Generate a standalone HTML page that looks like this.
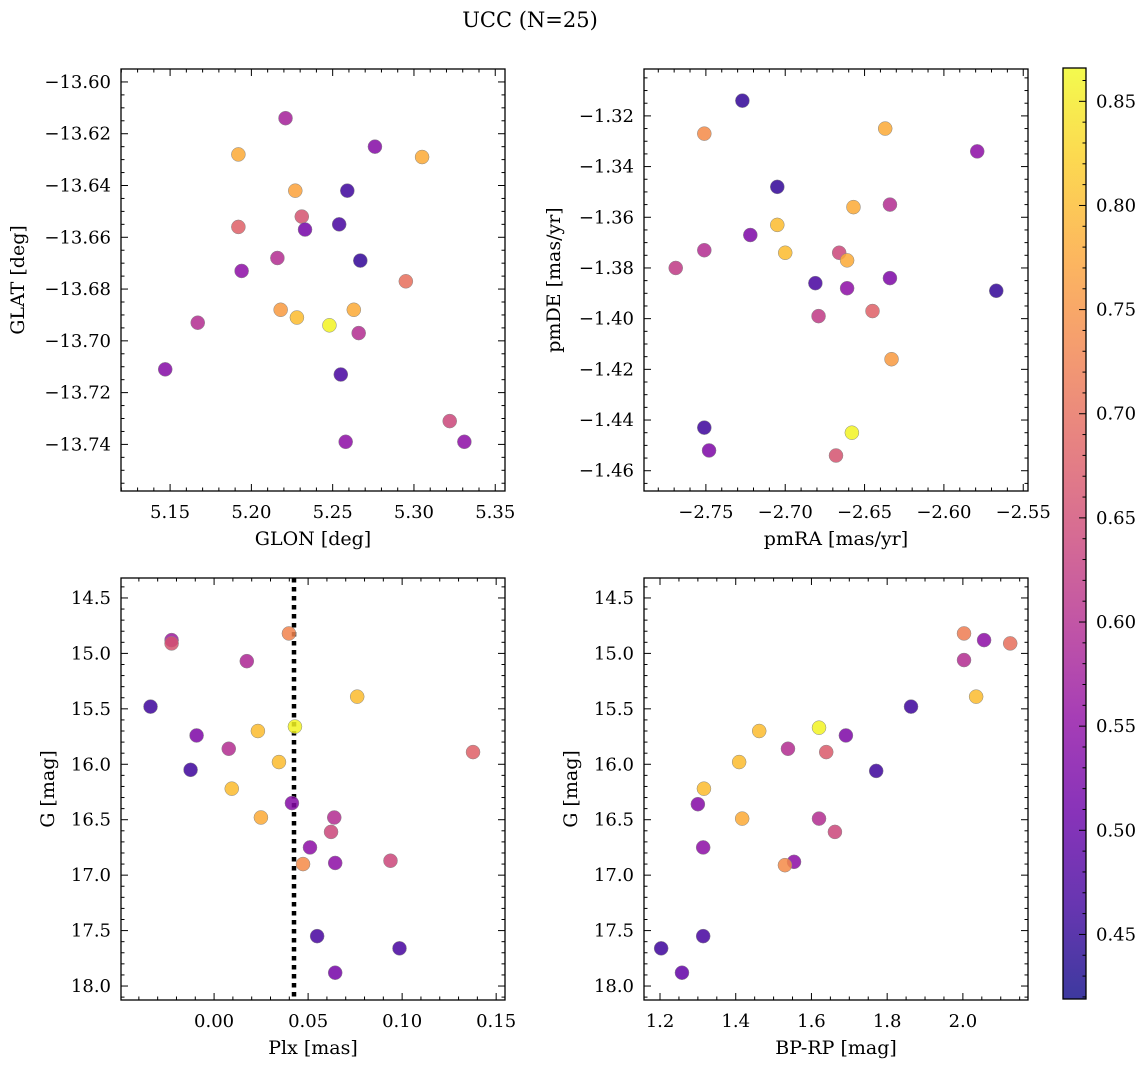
<!DOCTYPE html>
<html><head><meta charset="utf-8"><style>
html,body{margin:0;padding:0;background:#fff;}
svg text{font-family:"DejaVu Serif","Liberation Serif",serif;fill:#000;}
</style></head><body>
<svg id="fig" xmlns="http://www.w3.org/2000/svg" width="1148" height="1068" viewBox="0 0 1148 1068">
<rect width="1148" height="1068" fill="#fff"/>
<text x="530" y="27" font-size="21" text-anchor="middle">UCC (N=25)</text>
<defs><linearGradient id="cg" x1="0" y1="1" x2="0" y2="0">
<stop offset="0" stop-color="#0d0887"/><stop offset="0.1" stop-color="#41049d"/><stop offset="0.2" stop-color="#6a00a8"/><stop offset="0.3" stop-color="#8f0da4"/><stop offset="0.4" stop-color="#b12a90"/><stop offset="0.5" stop-color="#cc4778"/><stop offset="0.6" stop-color="#e16462"/><stop offset="0.7" stop-color="#f2844b"/><stop offset="0.8" stop-color="#fca636"/><stop offset="0.9" stop-color="#fcce25"/><stop offset="1" stop-color="#f0f921"/>
</linearGradient></defs>
</svg>
<script>
// ---- data ----
const tlGlon=[5.221,5.192,5.276,5.305,5.227,5.259,5.231,5.192,5.254,5.233,5.216,5.267,5.194,5.295,5.218,5.263,5.228,5.167,5.248,5.266,5.147,5.255,5.322,5.258,5.331];
const tlGlat=[-13.614,-13.628,-13.625,-13.629,-13.642,-13.642,-13.652,-13.656,-13.655,-13.657,-13.668,-13.669,-13.673,-13.677,-13.688,-13.688,-13.691,-13.693,-13.694,-13.697,-13.711,-13.713,-13.731,-13.739,-13.739];
const tlProb=[0.58,0.78,0.54,0.78,0.77,0.46,0.66,0.68,0.47,0.52,0.60,0.45,0.55,0.70,0.76,0.78,0.80,0.60,0.86,0.60,0.54,0.47,0.64,0.55,0.55];
const trPmra=[-2.727,-2.751,-2.637,-2.579,-2.705,-2.657,-2.634,-2.705,-2.722,-2.751,-2.769,-2.700,-2.666,-2.661,-2.681,-2.661,-2.634,-2.567,-2.679,-2.645,-2.633,-2.751,-2.748,-2.658,-2.668];
const trPmde=[-1.314,-1.327,-1.325,-1.334,-1.348,-1.356,-1.355,-1.363,-1.367,-1.373,-1.380,-1.374,-1.374,-1.377,-1.386,-1.388,-1.384,-1.389,-1.399,-1.397,-1.416,-1.443,-1.452,-1.445,-1.454];
const trProb=[0.45,0.74,0.78,0.55,0.45,0.78,0.60,0.80,0.53,0.60,0.62,0.80,0.64,0.78,0.47,0.55,0.53,0.45,0.62,0.68,0.76,0.46,0.53,0.86,0.66];
const blPlx=[-0.0226,-0.0226,0.0398,0.0174,0.0761,-0.0338,0.043,-0.0093,0.0233,0.1377,0.0078,-0.0125,0.0345,0.0094,0.0249,0.0414,0.0639,0.0622,0.051,0.0473,0.0644,0.0938,0.0548,0.0986,0.0644];
const blG=[14.88,14.91,14.82,15.07,15.39,15.48,15.66,15.74,15.70,15.89,15.86,16.05,15.98,16.22,16.48,16.35,16.48,16.61,16.75,16.90,16.89,16.87,17.55,17.66,17.88];
const blProb=[0.57,0.66,0.73,0.59,0.80,0.46,0.86,0.53,0.80,0.68,0.60,0.46,0.80,0.80,0.78,0.54,0.60,0.64,0.55,0.74,0.55,0.64,0.47,0.47,0.52];
const plxLine=0.0425;
const brBprp=[2.003,2.056,2.125,2.003,2.035,1.863,1.620,1.462,1.691,1.538,1.639,1.409,1.771,1.316,1.300,1.417,1.620,1.662,1.314,1.554,1.530,1.314,1.203,1.258];
const brG=[14.82,14.88,14.91,15.06,15.39,15.48,15.67,15.70,15.74,15.86,15.89,15.98,16.06,16.22,16.36,16.49,16.49,16.61,16.75,16.88,16.91,17.55,17.66,17.88];
const brProb=[0.72,0.55,0.70,0.60,0.80,0.46,0.86,0.80,0.53,0.60,0.67,0.80,0.46,0.80,0.54,0.78,0.60,0.64,0.55,0.55,0.74,0.47,0.46,0.50];
const cbTicks=[0.45,0.50,0.55,0.60,0.65,0.70,0.75,0.80,0.85];
const vmin=0.419, vmax=0.866;

const NS='http://www.w3.org/2000/svg';
const svg=document.getElementById('fig');
function mk(tag,attrs,parent){const e=document.createElementNS(NS,tag);for(const k in attrs)e.setAttribute(k,attrs[k]);(parent||svg).appendChild(e);return e;}
const stops=[[13,8,135],[65,4,157],[106,0,168],[143,13,164],[177,42,144],[204,71,120],[225,100,98],[242,132,75],[252,166,54],[252,206,37],[240,249,33]];
function plasma(v){let t=(v-vmin)/(vmax-vmin);t=Math.max(0,Math.min(1,t))*10;const i=Math.min(9,Math.floor(t)),f=t-i;const a=stops[i],b=stops[i+1];return 'rgb('+a.map((c,j)=>Math.round(c+(b[j]-c)*f)).join(',')+')';}
function fmt(v,d){let s=v.toFixed(d);if(v<0&&parseFloat(s)!==0)s='\u2212'+s.slice(1);return s;}

function panel(o){
  const g=mk('g',{});
  
  
  const X=v=>o.x0+(v-o.xd[0])/(o.xd[1]-o.xd[0])*(o.x1-o.x0);
  const Y=v=>o.y0+(v-o.yd[0])/(o.yd[1]-o.yd[0])*(o.y1-o.y0);
  const xl=Math.min(o.xd[0],o.xd[1]),xh=Math.max(o.xd[0],o.xd[1]);
  const yl=Math.min(o.yd[0],o.yd[1]),yh=Math.max(o.yd[0],o.yd[1]);
  const tk=mk('g',{stroke:'#000','stroke-width':1},g);
  
  
  for(let k=Math.ceil(xl/o.xmi-1e-6);k*o.xmi<=xh+1e-9;k++){const v=k*o.xmi;const px=X(v);const maj=Math.abs(v/o.xma-Math.round(v/o.xma))<1e-6;const L=maj?7:3.5;
    mk('line',{x1:px,x2:px,y1:o.y1,y2:o.y1-L},tk);mk('line',{x1:px,x2:px,y1:o.y0,y2:o.y0+L},tk);
    if(maj){const t=mk('text',{x:px,y:o.y1+27,'font-size':18,'text-anchor':'middle'},g);t.textContent=fmt(v,o.xdec);}}
  for(let k=Math.ceil(yl/o.ymi-1e-6);k*o.ymi<=yh+1e-9;k++){const v=k*o.ymi;const py=Y(v);const maj=Math.abs(v/o.yma-Math.round(v/o.yma))<1e-6;const L=maj?7:3.5;
    mk('line',{x1:o.x0,x2:o.x0+L,y1:py,y2:py},tk);mk('line',{x1:o.x1,x2:o.x1-L,y1:py,y2:py},tk);
    if(maj){const t=mk('text',{x:o.x0-10,y:py+6,'font-size':18,'text-anchor':'end'},g);t.textContent=fmt(v,o.ydec);}}
  if(o.vline!==undefined){const l=mk('line',{x1:X(o.vline),x2:X(o.vline),y1:o.y0,y2:o.y1,stroke:'#000','stroke-width':4.5,'stroke-dasharray':'4.5,4.5'},g);}
  for(let i=0;i<o.xs.length;i++){const c=mk('circle',{cx:X(o.xs[i]),cy:Y(o.ys[i]),r:7,fill:plasma(o.cs[i]),'fill-opacity':0.85,stroke:'#888','stroke-width':0.5},g);
    
    }
  const fr=mk('rect',{x:o.x0,y:o.y0,width:o.x1-o.x0,height:o.y1-o.y0,fill:'none',stroke:'#000','stroke-width':1.3},g);
  
  const xt=mk('text',{x:(o.x0+o.x1)/2,y:o.y1+54,'font-size':19,'text-anchor':'middle'},g);xt.textContent=o.xlab;
  
  const yt=mk('text',{x:0,y:0,'font-size':19,'text-anchor':'middle',transform:'translate('+o.ylx+','+((o.y0+o.y1)/2)+') rotate(-90)'},g);yt.textContent=o.ylab;
  
}
panel({name:'glon-glat-panel',x0:121,x1:505,y0:69,y1:491,xd:[5.1198,5.356],yd:[-13.595,-13.758],xma:0.05,xmi:0.01,yma:0.02,ymi:0.005,xdec:2,ydec:2,xs:tlGlon,ys:tlGlat,cs:tlProb,xlab:'GLON [deg]',ylab:'GLAT [deg]',ylx:24});
panel({name:'pm-panel',x0:644,x1:1028,y0:69,y1:491,xd:[-2.789,-2.547],yd:[-1.3015,-1.468],xma:0.05,xmi:0.01,yma:0.02,ymi:0.005,xdec:2,ydec:2,xs:trPmra,ys:trPmde,cs:trProb,xlab:'pmRA [mas/yr]',ylab:'pmDE [mas/yr]',ylx:560});
panel({name:'plx-g-panel',x0:121,x1:505,y0:578,y1:1000,xd:[-0.0495,0.1547],yd:[14.32,18.126],xma:0.05,xmi:0.01,yma:0.5,ymi:0.1,xdec:2,ydec:1,xs:blPlx,ys:blG,cs:blProb,xlab:'Plx [mas]',ylab:'G [mag]',ylx:54,vline:plxLine});
panel({name:'cmd-panel',x0:644,x1:1028,y0:578,y1:1000,xd:[1.1577,2.172],yd:[14.32,18.126],xma:0.2,xmi:0.05,yma:0.5,ymi:0.1,xdec:1,ydec:1,xs:brBprp,ys:brG,cs:brProb,xlab:'BP-RP [mag]',ylab:'G [mag]',ylx:577});
// colorbar
const cb=mk('g',{});


const cy0=68,cy1=999,cx0=1063,cx1=1086;
mk('rect',{x:cx0,y:cy0,width:cx1-cx0,height:cy1-cy0,fill:'url(#cg)','fill-opacity':0.8},cb);
const CY=v=>cy1-(v-vmin)/(vmax-vmin)*(cy1-cy0);
for(let k=Math.ceil(vmin*100);k<=Math.floor(vmax*100);k++){const v=k/100;const py=CY(v);const maj=k%5===0;
  mk('line',{x1:cx1,x2:cx1-(maj?7:3.5),y1:py,y2:py,stroke:'#000','stroke-width':1},cb);}
cbTicks.forEach(v=>{const t=mk('text',{x:cx1+10,y:CY(v)+6,'font-size':18},cb);t.textContent=v.toFixed(2);
  
  });
mk('rect',{x:cx0,y:cy0,width:cx1-cx0,height:cy1-cy0,fill:'none',stroke:'#000','stroke-width':1.3},cb);
</script>
</body></html>
